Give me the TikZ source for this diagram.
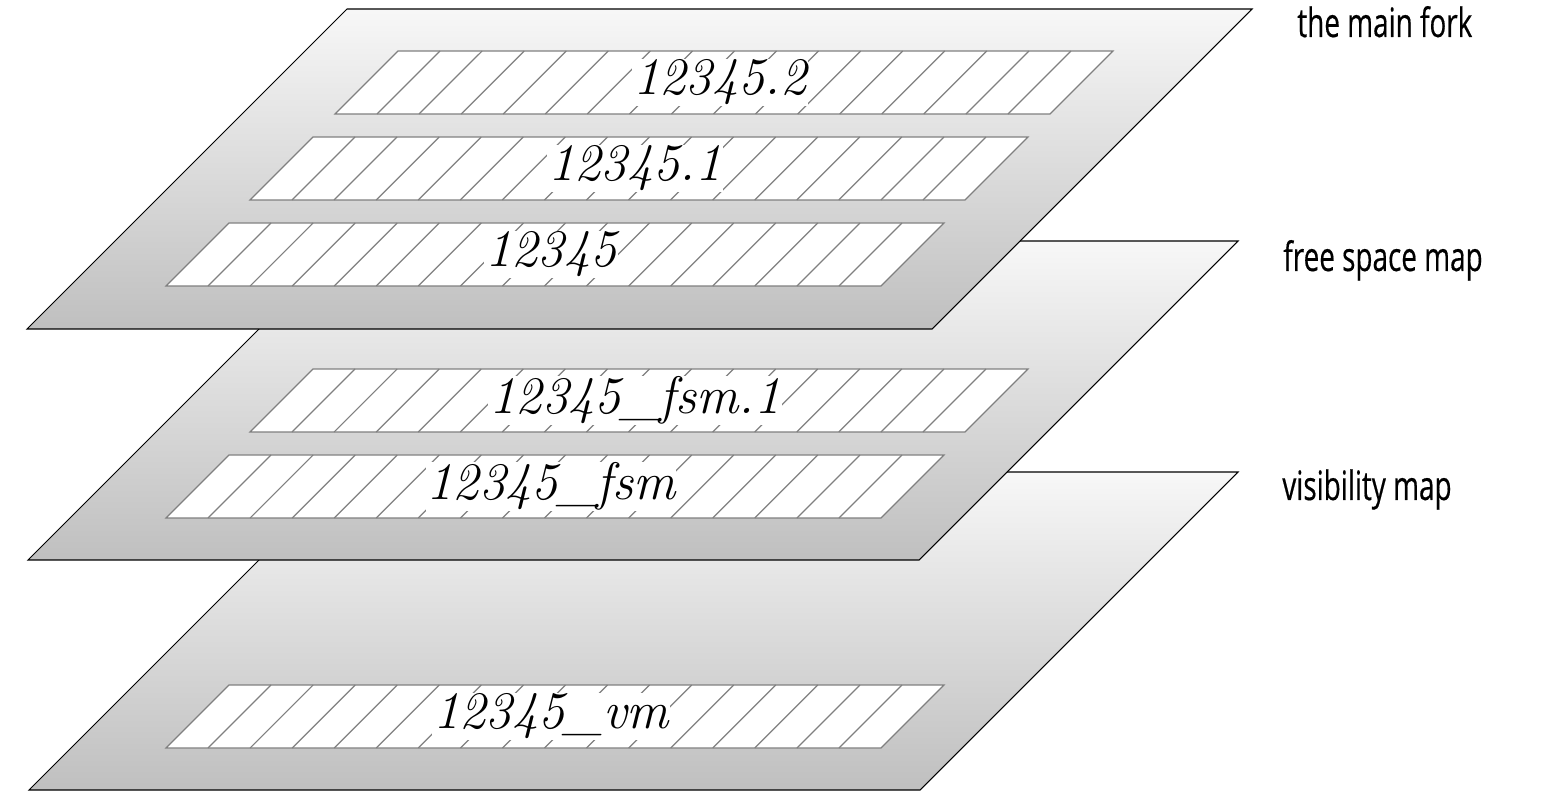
\documentclass[tikz,border=0pt]{standalone}
\usepackage{fontspec}
\newfontfamily\labelfont[FakeStretch=0.69, FakeBold=0.4]{Open Sans}
\tikzset{my_layer/.style={draw=black, line width=0.6pt, top color=black!3, bottom color=black!25}}
\tikzset{my_strip/.style={draw=black!50, fill=white, line width=0.7pt}}
\tikzset{my_hatch/.style={draw=black!50, line width=0.7pt}}
\tikzset{my_file/.style={fill=white, inner sep=0.5pt, font=\itshape\fontsize{30}{30}\selectfont}}
\tikzset{my_label/.style={anchor=base west, inner sep=0pt, font=\labelfont\fontsize{23}{23}\selectfont}}

% #1,#2 = top left corner, #3 = width, #4 = height
\newcommand{\forklayer}[4]{%
  \path[my_layer] (#1,#2) -- ++(#3,0) -- ++(-#4,#4) -- ++(-#3,0) -- cycle;}
% #1,#2 = top left corner, #3 = node name, #4 = file name
\newcommand{\forkstrip}[4]{%
  \path[my_strip] (#1,#2) -- ++(715,0) -- ++(-63,63) -- ++(-715,0) -- cycle;
  \foreach \i in {1,...,16}
    \draw[my_hatch] ({#1+\i*42.06},#2) -- ++(-63,63);
  \node[my_file] (#3) at ({#1+322},{#2+31.5}) {#4};}

\begin{document}
\begin{tikzpicture}[x=0.02cm, y=-0.02cm]
    \useasboundingbox (0,0) rectangle (1556,800);
    %\draw[help lines, step=100] (0,0) grid (1556,800);

    % visibility map
    \forklayer{347}{472}{891}{318}
    \forkstrip{229}{685}{vm}{12345\_vm}

    % free space map
    \forklayer{347}{241}{891}{319}
    \forkstrip{313}{369}{fsm1}{12345\_fsm.1}
    \forkstrip{229}{455}{fsm}{12345\_fsm}

    % main fork
    \forklayer{347}{9}{905}{320}
    \forkstrip{398}{51}{main2}{12345.2}
    \forkstrip{313}{137}{main1}{12345.1}
    \forkstrip{229}{223}{main}{12345}

    \node[my_label] (fork_label) at (1297,37) {the main fork};
    \node[my_label] (fsm_label) at (1283,271) {free space map};
    \node[my_label] (vm_label) at (1282,500) {visibility map};
\end{tikzpicture}
\end{document}
